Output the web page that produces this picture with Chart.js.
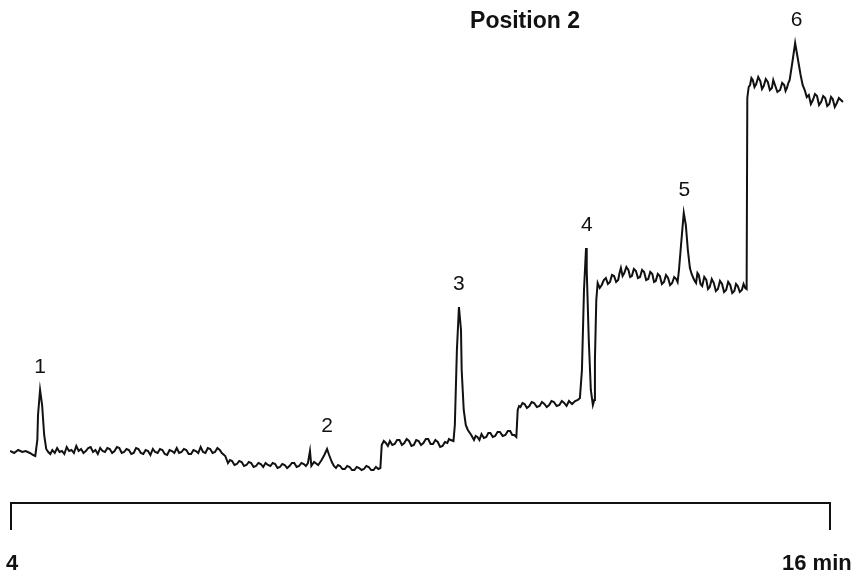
<!DOCTYPE html>
<html>
<head>
<meta charset="utf-8">
<script src="https://cdn.jsdelivr.net/npm/chart.js@4/dist/chart.umd.min.js"></script>
<style>
    html, body { margin: 0; padding: 0; background: #fff; }
    canvas { display: block; }
</style>
</head>
<body>
<canvas id="trace" width="854" height="573"></canvas>
<script>
// ---------- Data ----------

const times = [
    // start + peak 1
    4.00, 4.06, 4.12, 4.18, 4.23, 4.29, 4.34, 4.37, 4.40, 4.41, 4.44, 4.47, 4.50, 4.53,
    // first baseline
    4.56, 4.59, 4.62, 4.655, 4.69, 4.725, 4.76, 4.795, 4.83, 4.865, 4.90, 4.935, 4.97, 5.005, 5.04,
    5.075, 5.11, 5.145, 5.18, 5.215, 5.25, 5.285, 5.32, 5.355, 5.39, 5.425, 5.46, 5.495, 5.53, 5.565, 5.60,
    5.635, 5.67, 5.705, 5.74, 5.775, 5.81, 5.845, 5.88, 5.915, 5.95, 5.985, 6.02, 6.055, 6.09, 6.125, 6.16,
    6.195, 6.23, 6.265, 6.30, 6.335, 6.37, 6.405, 6.44, 6.475, 6.51, 6.545, 6.58, 6.615, 6.65, 6.685, 6.72,
    6.755, 6.79, 6.825, 6.86, 6.895, 6.93, 6.965, 7.00, 7.035, 7.07, 7.10,
    // lower baseline + peak 2
    7.15, 7.19, 7.22, 7.25, 7.285, 7.32, 7.355, 7.39, 7.425, 7.46, 7.495, 7.53, 7.565, 7.60, 7.635, 7.67,
    7.705, 7.74, 7.775, 7.81, 7.845, 7.88, 7.915, 7.95, 7.985, 8.02, 8.055, 8.09, 8.125, 8.16, 8.195, 8.23,
    8.265, 8.30, 8.33, 8.36, 8.39, 8.41, 8.45, 8.51, 8.56, 8.60, 8.64, 8.67, 8.71, 8.74, 8.77, 8.80,
    8.83, 8.865, 8.90, 8.935, 8.97, 9.005, 9.04, 9.075, 9.11, 9.145, 9.18, 9.215, 9.25, 9.285, 9.32, 9.355, 9.39, 9.42,
    // step + peak 3
    9.44, 9.47, 9.50, 9.53, 9.56, 9.595, 9.63, 9.665, 9.70, 9.735, 9.77, 9.805, 9.84, 9.875, 9.91, 9.945,
    9.98, 10.015, 10.05, 10.085, 10.12, 10.155, 10.19, 10.225, 10.26, 10.295, 10.33, 10.365, 10.40, 10.425, 10.45, 10.49,
    10.51, 10.54, 10.57, 10.60, 10.61, 10.64, 10.67, 10.70, 10.75,
    10.79, 10.815, 10.84, 10.87, 10.90, 10.935, 10.97, 11.00, 11.03, 11.065, 11.10, 11.135, 11.17, 11.21, 11.25, 11.285, 11.32, 11.35, 11.38, 11.41,
    // step + peak 4
    11.43, 11.45, 11.47, 11.50, 11.53, 11.565, 11.60, 11.635, 11.67, 11.71, 11.75, 11.785, 11.82, 11.855, 11.89, 11.925,
    11.96, 12.00, 12.04, 12.075, 12.11, 12.145, 12.18, 12.225, 12.27, 12.31, 12.34, 12.37, 12.40, 12.43, 12.44, 12.47,
    12.50, 12.53, 12.55, 12.56, 12.58,
    // plateau + peak 5
    12.60, 12.63, 12.66, 12.69, 12.72, 12.75, 12.78, 12.81, 12.84, 12.87, 12.90, 12.92, 12.94, 12.965, 12.99, 13.02,
    13.05, 13.075, 13.10, 13.13, 13.16, 13.19, 13.22, 13.25, 13.28, 13.31, 13.34, 13.37, 13.40, 13.425, 13.45, 13.48,
    13.51, 13.54, 13.57, 13.60, 13.63, 13.66, 13.69, 13.72, 13.75, 13.77, 13.79, 13.82, 13.86, 13.89, 13.92,
    13.95, 13.975, 14.00, 14.02, 14.04, 14.06, 14.08, 14.105, 14.13, 14.16, 14.19, 14.215, 14.24, 14.27, 14.30, 14.33,
    14.36, 14.39, 14.42, 14.45, 14.48, 14.51, 14.54, 14.57, 14.60, 14.625, 14.65, 14.68, 14.71, 14.735, 14.76, 14.78,
    // top step + peak 6
    14.79, 14.81, 14.83, 14.85, 14.87, 14.895, 14.92, 14.95, 14.98, 15.005, 15.03, 15.06, 15.09, 15.12, 15.15, 15.17,
    15.19, 15.23, 15.27, 15.30, 15.33, 15.35, 15.37, 15.39, 15.41, 15.45, 15.49, 15.52, 15.57, 15.60, 15.63, 15.66,
    15.69, 15.72, 15.75, 15.78, 15.81, 15.84, 15.87, 15.90, 15.93, 15.96, 15.99, 16.015, 16.04, 16.07, 16.10, 16.13, 16.16, 16.19
];

const signal = [
    // start + peak 1
    52, 50, 53, 51, 52, 50, 48, 47, 63, 88, 113, 98, 68, 54,
    // first baseline
    51, 49, 53, 50, 55, 51, 52, 49, 56, 52, 53, 50, 57, 52, 54,
    50, 52, 55, 56, 51, 53, 49, 55, 52, 51, 55, 54, 50, 52, 56, 55,
    50, 51, 54, 53, 49, 50, 55, 54, 50, 49, 53, 52, 48, 54, 51, 50,
    54, 53, 49, 48, 53, 52, 50, 55, 50, 51, 54, 53, 49, 49, 53, 52,
    50, 56, 51, 50, 55, 54, 50, 51, 55, 53, 50,
    // lower baseline + peak 2
    47, 40, 43, 42, 38, 39, 42, 41, 37, 38, 41, 40, 36, 37, 40, 39,
    36, 40, 38, 37, 40, 39, 35, 36, 39, 38, 35, 37, 40, 40, 36, 37,
    40, 39, 37, 40, 52, 37, 41, 38, 43, 48, 54, 48, 41, 37, 35, 38,
    37, 34, 34, 37, 36, 33, 33, 36, 35, 33, 34, 37, 36, 33, 33, 36, 34, 35,
    // step + peak 3
    58, 62, 60, 57, 62, 58, 59, 63, 63, 58, 60, 64, 62, 57, 58, 63,
    62, 58, 60, 64, 64, 59, 59, 63, 61, 56, 57, 61, 60, 64, 63, 62,
    78, 153, 196, 173, 133, 93, 78, 73, 68,
    63, 67, 66, 63, 69, 65, 66, 70, 70, 66, 67, 71, 71, 67, 68, 72, 72, 68, 68, 66,
    // step + peak 4
    93, 97, 96, 100, 99, 95, 97, 101, 100, 96, 97, 101, 99, 96, 98, 102,
    101, 97, 98, 102, 100, 97, 102, 99, 102, 103, 105, 133, 213, 255, 233, 163,
    113, 98, 103, 143, 203,
    // plateau + peak 5
    220, 215, 218, 223, 225, 219, 221, 228, 227, 221, 223, 230, 235, 227, 230, 236,
    233, 226, 227, 234, 232, 225, 226, 233, 231, 223, 224, 231, 229, 221, 222, 229,
    227, 219, 221, 228, 225, 218, 220, 226, 224, 221, 233, 258, 290, 278, 253,
    235, 229, 225, 222, 220, 230, 228, 219, 217, 226, 223, 214, 216, 224, 220, 212,
    214, 222, 219, 211, 213, 221, 218, 210, 212, 219, 217, 211, 213, 219, 215, 214,
    // top step + peak 6
    405, 416, 418, 425, 423, 416, 419, 426, 422, 414, 417, 424, 421, 413, 415, 423,
    419, 411, 413, 420, 418, 412, 415, 420, 423, 441, 460, 448, 428, 418, 413, 406,
    408, 399, 403, 409, 407, 398, 401, 407, 405, 397, 399, 406, 404, 396, 400, 405, 403, 401
];

// peak numbers, their retention times and peak-top heights
const peakLabels = ["1", "2", "3", "4", "5", "6"];
const peakTimes = [4.44, 8.64, 10.57, 12.44, 13.87, 15.51];
const peakTops = [113, 54, 196, 255, 290, 460];

const axisStart = 4;
const axisEnd = 16;
const title = "Position 2";

// ---------- Annotations ----------

const annotate = {
    id: "annotate",
    afterDatasetsDraw(chart) {
        const ctx = chart.ctx;
        const x = chart.scales.x;
        const y = chart.scales.y;
        const base = chart.chartArea.bottom;

        ctx.save();
        ctx.fillStyle = "#111";
        ctx.strokeStyle = "#111";

        // peak numbers
        ctx.font = "21px 'Liberation Sans', Arial, sans-serif";
        ctx.textAlign = "center";
        ctx.textBaseline = "middle";
        peakLabels.forEach((lab, i) => {
            ctx.fillText(lab, x.getPixelForValue(peakTimes[i]), y.getPixelForValue(peakTops[i]) - 23);
        });

        // time bracket
        const x0 = x.getPixelForValue(axisStart);
        const x1 = x.getPixelForValue(axisEnd);
        ctx.lineWidth = 2;
        ctx.beginPath();
        ctx.moveTo(x0 + 1, base + 27);
        ctx.lineTo(x0 + 1, base);
        ctx.lineTo(x1, base);
        ctx.lineTo(x1, base + 27);
        ctx.stroke();

        ctx.font = "bold 22px 'Liberation Sans', Arial, sans-serif";
        ctx.textBaseline = "alphabetic";
        ctx.textAlign = "center";
        ctx.fillText(String(axisStart), x0 + 2, base + 67);
        ctx.textAlign = "left";
        ctx.fillText(axisEnd + " min", x1 - 48, base + 67);

        // title
        ctx.font = "bold 23px 'Liberation Sans', Arial, sans-serif";
        ctx.textAlign = "center";
        ctx.textBaseline = "middle";
        ctx.fillText(title, 525, 22);

        ctx.restore();
    }
};

// ---------- Chart ----------

new Chart(document.getElementById("trace"), {
    type: "line",
    data: {
        datasets: [{
            data: times.map((t, i) => ({ x: t, y: signal[i] })),
            borderColor: "#111",
            borderWidth: 2,
            pointRadius: 0,
            tension: 0,
            fill: false
        }]
    },
    options: {
        responsive: false,
        animation: false,
        layout: {
            padding: { left: 10, right: 10, top: 0, bottom: 70 }
        },
        plugins: {
            legend: { display: false },
            tooltip: { enabled: false }
        },
        scales: {
            x: {
                type: "linear",
                display: false,
                min: 4,
                max: 16.205
            },
            y: {
                display: false,
                min: 0,
                max: 503
            }
        }
    },
    plugins: [annotate]
});
</script>
</body>
</html>
